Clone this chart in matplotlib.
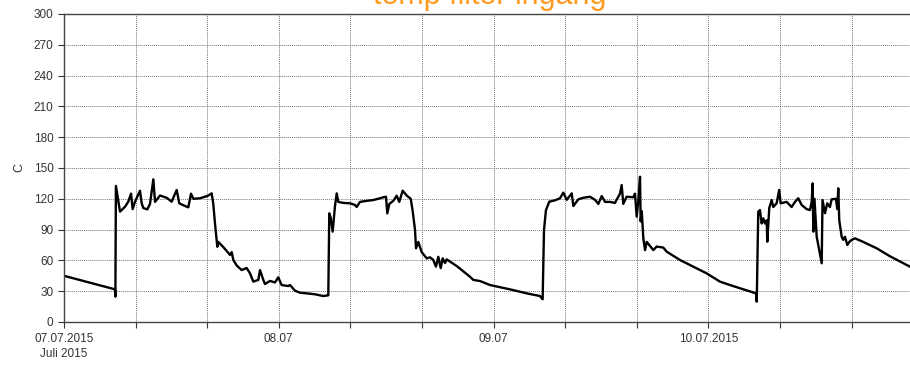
import matplotlib.pyplot as plt

# hours since 07.07.2015 00:00 and filter inlet temperature (C)
hours = [0.0, 5.70, 5.74, 5.80, 6.26, 6.82, 7.18, 7.49, 7.67, 7.93, 8.49, 8.68, 8.86,
         9.31, 9.61, 9.98, 10.17, 10.73, 11.47, 12.03, 12.59, 12.88, 13.52, 13.89,
         14.19, 14.45, 15.20, 15.75, 16.09, 16.50, 16.68, 16.87, 17.13, 17.24, 17.80,
         18.55, 18.74, 18.92, 19.30, 19.85, 20.41, 20.78, 21.15, 21.71, 21.90, 22.27,
         22.46, 23.02, 23.57, 23.94, 24.32, 25.06, 25.25, 25.81, 26.37, 27.12, 28.04,
         28.97, 29.53, 29.64, 29.79, 30.02, 30.16, 30.27, 30.47, 30.65, 31.21, 31.96,
         32.51, 32.70, 33.07, 33.82, 34.56, 35.31, 35.68, 35.98, 36.12, 36.35, 36.79,
         37.17, 37.46, 37.84, 38.29, 38.74, 38.96, 39.22, 39.33, 39.59, 39.97, 40.53,
         40.89, 41.26, 41.56, 41.82, 42.09, 42.31, 42.57, 42.76, 43.88, 45.36, 45.73,
         46.48, 47.60, 49.83, 51.70, 53.18, 53.48, 53.63, 53.85, 54.22, 54.86, 55.42,
         55.79, 56.17, 56.73, 56.91, 57.47, 58.02, 58.77, 59.33, 59.70, 60.08, 60.45,
         61.00, 61.56, 62.12, 62.31, 62.49, 62.86, 63.61, 63.80, 63.99, 64.17, 64.36,
         64.43, 64.55, 64.73, 64.92, 65.11, 65.85, 66.22, 66.96, 67.34, 68.82, 70.31,
         71.80, 73.30, 74.41, 75.90, 77.32, 77.40, 77.57, 77.76, 77.95, 78.13, 78.32,
         78.51, 78.58, 78.80, 79.07, 79.25, 79.62, 79.91, 80.07, 80.74, 81.30, 81.67,
         82.04, 82.42, 82.97, 83.35, 83.54, 83.65, 83.72, 83.85, 84.10, 84.66, 84.75,
         85.03, 85.28, 85.58, 85.77, 86.25, 86.40, 86.51, 86.62, 86.89, 87.07, 87.26,
         87.52, 87.74, 88.01, 88.38, 89.30, 90.80, 92.29, 94.52]
temp = [45, 31.8, 24.7, 132.5, 107.5, 112.3, 117.2, 125, 110, 117, 127.9, 115.6, 111,
        109.7, 115, 139, 117, 123.2, 121, 117.2, 128.6, 115.6, 113, 111.7,
        125, 120, 120.5, 122, 123, 125.3, 115, 96, 73.3, 78, 73,
        65.3, 68, 60.4, 55, 50.6, 52.6, 47.4, 39.3, 41, 50.6, 41,
        37, 40, 38.5, 43.5, 36, 35, 36, 30.5, 28.5, 27.9, 27,
        25.3, 26, 105.8, 102, 88, 102, 112.3, 125.3, 117, 116, 115.6,
        114, 112, 117, 118, 118.8, 120.5, 121.5, 122, 105.8, 115, 118,
        123, 117, 127.9, 123.2, 120, 108, 89.6, 71.8, 78, 68, 62,
        63, 60.5, 53.9, 63.5, 52.5, 62, 57.5, 61, 54.5, 44.1, 41,
        39.9, 36, 31.8, 27.9, 25.3, 22.1, 89.6, 109, 117.2, 118.5, 120.5,
        126, 119, 125.3, 113, 119.5, 121, 122, 119, 115, 122.7, 117,
        117, 116, 125, 133.4, 115, 122, 121.5, 125, 102.6, 118, 141.5,
        98, 108, 81.5, 70, 78, 70, 73.5, 72.5, 68.5, 60.4, 53.9,
        47.4, 39.3, 36, 31.8, 27.9, 19.8, 107.5, 109, 96, 101, 96,
        99, 78.2, 111, 118.8, 112, 115.6, 128.6, 115.6, 117, 112, 117,
        120.5, 114, 110, 109, 117, 135, 88, 120, 83.1, 57.2, 118.8,
        106, 115.6, 112, 119.5, 120, 110, 130.2, 99, 83.1, 80, 83,
        75, 78, 80, 81.5, 78, 71.8, 64, 53.9]

tick_hours = list(range(0, 96, 8))
tick_labels = ['07.07.2015\nJuli 2015', '', '', '08.07', '', '', '09.07', '', '',
               '10.07.2015', '', '']

plt.rcParams['font.family'] = ['Liberation Sans', 'DejaVu Sans']

fig = plt.figure(figsize=(9.1, 3.67), dpi=100)
# axes run slightly past the right edge of the image
ax = fig.add_axes([64 / 910, 1 - 322 / 367, 852 / 910, 308 / 367])

ax.plot(hours, temp, color='black', linewidth=1.7)

ax.set_xlim(0, 852 / 214.8 * 24)
ax.set_ylim(0, 300)
ax.set_yticks(range(0, 301, 30))
ax.set_xticks(tick_hours)
ax.set_xticklabels(tick_labels)
ax.tick_params(axis='both', labelsize=8.5, colors='#333333', length=4, width=0.8,
               direction='out')
ax.tick_params(axis='x', pad=4)
for lbl in ax.get_xticklabels():
    lbl.set_linespacing(1.3)

ax.grid(True, color='#777777', linestyle=(0, (1, 1)), linewidth=0.7)
ax.set_axisbelow(True)
for side in ['left', 'bottom', 'top']:
    ax.spines[side].set_color('#444444')
    ax.spines[side].set_linewidth(1.0)
ax.spines['right'].set_visible(False)

ax.set_ylabel('C', fontsize=9, color='#333333', labelpad=6)

# title sits mostly above the top edge, only its lower part shows
fig.text(490 / 910, 1 - 4 / 367, 'temp filter ingang', color='#ff9a1f',
         fontsize=22, ha='center', va='baseline')

fig.savefig('out.png', dpi=100)
